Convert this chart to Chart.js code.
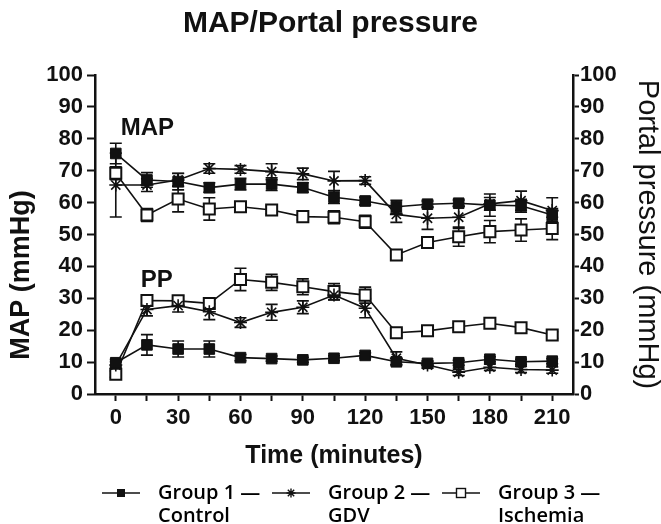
<!DOCTYPE html>
<html>
<head>
<meta charset="utf-8">
<title>MAP/Portal pressure</title>
<script src="https://cdn.jsdelivr.net/npm/chart.js@4.4.1/dist/chart.umd.min.js"></script>
<style>
  html, body { margin: 0; padding: 0; background: #fff; }
</style>
</head>
<body>
<canvas id="chart" width="661" height="524"></canvas>
<script>
// sampling times (minutes)
const times = [0, 15, 30, 45, 60, 75, 90, 105, 120, 135, 150, 165, 180, 195, 210];
const xTickLabels = [0, 30, 60, 90, 120, 150, 180, 210];

// mean arterial pressure (mmHg)
const mapControl   = [75.4, 67.1, 66.6, 64.7, 65.8, 65.8, 64.7, 61.7, 60.5, 58.7, 59.5, 59.8, 59.2, 59.0, 56.1];
const mapGdv       = [65.5, 65.5, 67.1, 70.7, 70.4, 69.7, 69.0, 66.8, 66.9, 56.3, 55.1, 55.4, 59.6, 60.6, 57.5];
const mapIschemia  = [69.2, 56.1, 61.1, 58.0, 58.7, 57.7, 55.6, 55.4, 54.0, 43.6, 47.5, 49.3, 50.9, 51.4, 51.9];
const mapControlErr  = [3.2, 2.3, 2.6, 1.5, 1.8, 2.0, 1.5, 2.0, 1.2, 2.0, 1.0, 1.0, 3.5, 2.0, 2.0];
const mapGdvErr      = [10.0, 2.0, 2.0, 1.5, 1.2, 2.5, 1.8, 3.0, 1.2, 2.5, 3.5, 3.5, 2.0, 3.0, 4.0];
const mapIschemiaErr = [2.0, 2.0, 4.0, 3.5, 1.5, 1.2, 1.0, 2.0, 2.0, 1.0, 1.5, 3.0, 3.5, 3.5, 3.5];

// portal pressure (mmHg)
const ppControl   = [9.8, 15.4, 14.1, 14.1, 11.4, 11.1, 10.7, 11.2, 12.1, 10.1, 9.6, 9.8, 10.9, 10.1, 10.3];
const ppGdv       = [9.1, 26.5, 27.7, 25.8, 22.4, 25.6, 27.2, 31.0, 26.9, 11.2, 9.1, 6.8, 8.4, 7.7, 7.5];
const ppIschemia  = [6.2, 29.3, 29.2, 28.4, 35.9, 35.0, 33.6, 32.1, 31.0, 19.2, 19.8, 21.1, 22.2, 20.8, 18.5];
const ppControlErr  = [1.0, 3.2, 2.5, 2.5, 1.0, 0.8, 0.8, 0.8, 0.8, 1.0, 0.8, 0.8, 0.8, 0.8, 0.8];
const ppGdvErr      = [1.0, 2.0, 2.0, 2.5, 1.5, 2.5, 2.0, 1.5, 3.0, 2.0, 1.0, 1.0, 1.0, 1.0, 1.0];
const ppIschemiaErr = [1.0, 1.5, 1.5, 1.5, 3.5, 2.5, 2.5, 2.5, 2.5, 1.0, 1.0, 1.0, 1.0, 1.0, 1.0];

const groups = [
  { name: 'Group 1 \u2014', sub: 'Control' },
  { name: 'Group 2 \u2014', sub: 'GDV' },
  { name: 'Group 3 \u2014', sub: 'Ischemia' }
];

const INK = '#111';
const SANS = '"Liberation Sans", Arial, sans-serif';

const styles = [
  { pointStyle: 'rect', pointRadius: 7.5, pointBackgroundColor: INK, pointBorderWidth: 1 },
  { pointStyle: 'star', pointRadius: 6.5, pointBackgroundColor: INK, pointBorderWidth: 1.6 },
  { pointStyle: 'rect', pointRadius: 7.8, pointBackgroundColor: '#fff', pointBorderWidth: 2 }
];

function series(values, errors, axis, g) {
  return Object.assign({
    data: values.map((v, i) => ({ x: times[i], y: v })),
    errors: errors,
    yAxisID: axis,
    borderColor: INK,
    borderWidth: 1.6,
    pointBorderColor: INK,
    pointHoverRadius: 7.5,
    tension: 0,
    fill: false
  }, styles[g]);
}

// vertical error bars with caps, drawn under the markers
const errorBars = {
  id: 'errorBars',
  beforeDatasetsDraw(chart) {
    const ctx = chart.ctx;
    const xs = chart.scales.x;
    ctx.save();
    ctx.strokeStyle = INK;
    ctx.lineWidth = 1.6;
    chart.data.datasets.forEach(ds => {
      const ys = chart.scales[ds.yAxisID];
      ds.data.forEach((p, j) => {
        const e = ds.errors[j];
        const px = xs.getPixelForValue(p.x);
        const top = ys.getPixelForValue(p.y + e);
        const bot = ys.getPixelForValue(p.y - e);
        ctx.beginPath();
        ctx.moveTo(px, top); ctx.lineTo(px, bot);
        ctx.moveTo(px - 6, top); ctx.lineTo(px + 6, top);
        ctx.moveTo(px - 6, bot); ctx.lineTo(px + 6, bot);
        ctx.stroke();
      });
    });
    ctx.restore();
  }
};

function drawMarker(ctx, kind, x, y) {
  ctx.beginPath();
  if (kind === 0) {
    ctx.fillStyle = INK;
    ctx.fillRect(x - 4, y - 4, 8, 8);
  } else if (kind === 1) {
    ctx.lineWidth = 1.4;
    for (let a = 0; a < 4; a++) {
      const t = a * Math.PI / 4;
      ctx.moveTo(x - 4.5 * Math.cos(t), y - 4.5 * Math.sin(t));
      ctx.lineTo(x + 4.5 * Math.cos(t), y + 4.5 * Math.sin(t));
    }
    ctx.stroke();
  } else {
    ctx.fillStyle = '#fff';
    ctx.fillRect(x - 4.5, y - 4.5, 9, 9);
    ctx.lineWidth = 1.4;
    ctx.strokeRect(x - 4.5, y - 4.5, 9, 9);
  }
}

// "MAP"/"PP" labels, left axis title and the legend row
const extras = {
  id: 'extras',
  afterDraw(chart) {
    const ctx = chart.ctx;
    const xs = chart.scales.x, y1 = chart.scales.y, y2 = chart.scales.y2;
    ctx.save();
    ctx.fillStyle = INK;
    ctx.strokeStyle = INK;
    ctx.textBaseline = 'middle';
    ctx.textAlign = 'left';
    ctx.font = 'bold 24px ' + SANS;
    ctx.fillText('MAP', xs.getPixelForValue(2.4), y1.getPixelForValue(83.4));
    ctx.fillText('PP', xs.getPixelForValue(12), y2.getPixelForValue(35.7));

    ctx.save();
    ctx.translate(22, 275);
    ctx.rotate(-Math.PI / 2);
    ctx.textAlign = 'center';
    ctx.font = 'bold 27px ' + SANS;
    ctx.fillText('MAP (mmHg)', 0, 0);
    ctx.restore();

    const starts = [102, 272, 442];
    groups.forEach((g, i) => {
      const x0 = starts[i], ly = 493;
      ctx.lineWidth = 1.6;
      ctx.beginPath();
      ctx.moveTo(x0, ly); ctx.lineTo(x0 + 38, ly);
      ctx.stroke();
      drawMarker(ctx, i, x0 + 19, ly);
      ctx.fillStyle = '#000';
      ctx.font = '600 20px "Open Sans", sans-serif';
      ctx.textAlign = 'left';
      ctx.fillText(g.name, x0 + 56, ly);
      ctx.fillText(g.sub, x0 + 56, ly + 23);
    });
    ctx.restore();
  }
};

const tickFont = { family: SANS, size: 22, weight: 'bold' };

new Chart(document.getElementById('chart'), {
  type: 'line',
  data: {
    datasets: [
      series(mapControl, mapControlErr, 'y', 0),
      series(mapGdv, mapGdvErr, 'y', 1),
      series(mapIschemia, mapIschemiaErr, 'y', 2),
      series(ppControl, ppControlErr, 'y2', 0),
      series(ppGdv, ppGdvErr, 'y2', 1),
      series(ppIschemia, ppIschemiaErr, 'y2', 2)
    ]
  },
  options: {
    responsive: false,
    animation: false,
    layout: { padding: { top: 0, bottom: 53, left: 0, right: 0 } },
    plugins: {
      legend: { display: false },
      tooltip: { enabled: false },
      title: {
        display: true,
        text: 'MAP/Portal pressure',
        color: INK,
        font: { family: SANS, size: 30, weight: 'bold' },
        padding: { top: 6, bottom: 33 }
      }
    },
    scales: {
      x: {
        type: 'linear',
        min: -10,
        max: 220,
        afterBuildTicks: s => { s.ticks = times.map(v => ({ value: v })); },
        afterFit: s => { s.height = 77; },
        ticks: {
          autoSkip: false,
          maxRotation: 0,
          color: INK,
          font: tickFont,
          padding: 4,
          callback: v => xTickLabels.includes(v) ? String(v) : ''
        },
        grid: { drawOnChartArea: false, tickLength: 7, tickWidth: 2, tickColor: INK },
        border: { color: INK, width: 2.5 },
        title: {
          display: true,
          text: 'Time (minutes)',
          color: INK,
          font: { family: SANS, size: 25, weight: 'bold' },
          padding: { top: 0, bottom: 0 }
        }
      },
      y: {
        position: 'left',
        min: 0,
        max: 100,
        afterFit: s => { s.width = 95; },
        ticks: { stepSize: 10, color: INK, font: tickFont, padding: 4 },
        grid: { drawOnChartArea: false, tickLength: 8, tickWidth: 2, tickColor: INK },
        border: { color: INK, width: 2.5 }
      },
      y2: {
        position: 'right',
        min: 0,
        max: 100,
        afterFit: s => { s.width = 88; },
        ticks: { stepSize: 10, color: INK, font: tickFont, padding: 1 },
        grid: { drawOnChartArea: false, tickLength: 6, tickWidth: 2, tickColor: INK },
        border: { color: INK, width: 2.5 },
        title: {
          display: true,
          text: 'Portal pressure (mmHg)',
          color: INK,
          font: { family: SANS, size: 29, lineHeight: 1 },
          padding: { top: 0, bottom: 0 }
        }
      }
    }
  },
  plugins: [errorBars, extras]
});
</script>
</body>
</html>
